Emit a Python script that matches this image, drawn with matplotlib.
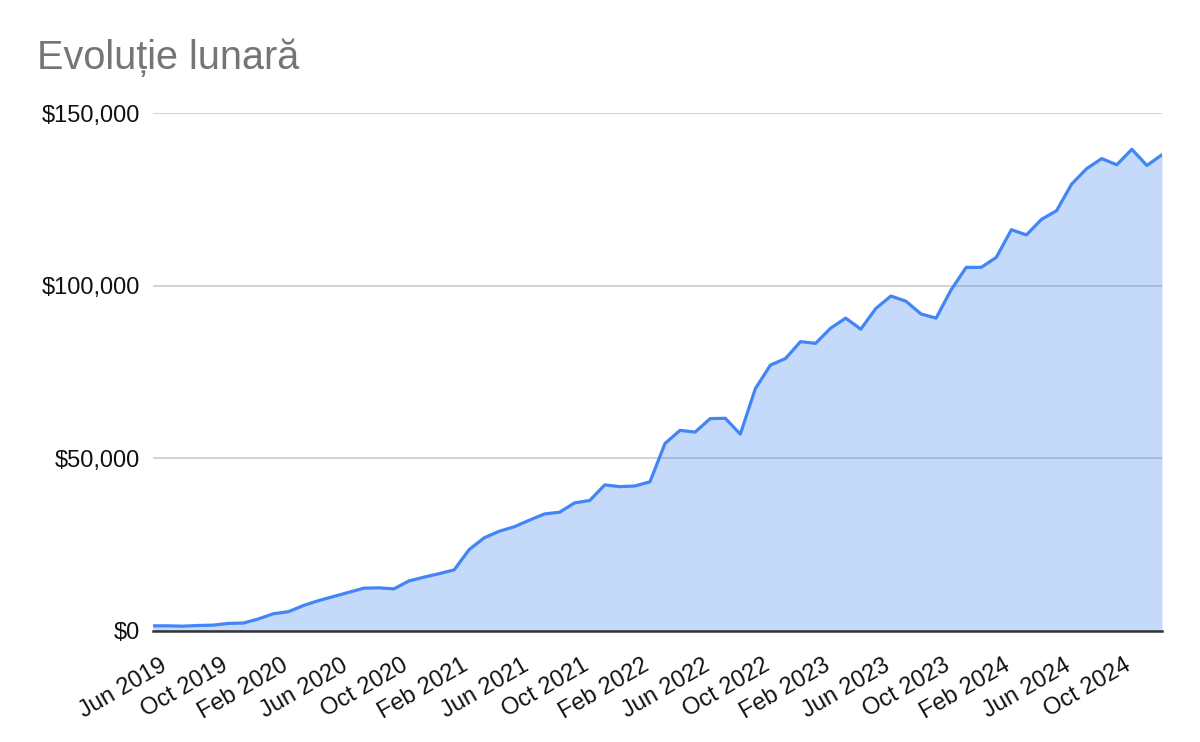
import pandas as pd
import matplotlib.pyplot as plt
import matplotlib.transforms as mtransforms
from matplotlib.ticker import FuncFormatter

# luni iun 2019 - ian 2025
luni = pd.date_range('2019-06-01', periods=68, freq='MS')
valori = [
    1500, 1500, 1400, 1600, 1700, 2200, 2300, 3500, 5000, 5600,
    7400, 8800, 10000, 11200, 12400, 12500, 12200, 14500, 15600, 16600,
    17700, 23600, 27000, 28900, 30200, 32100, 33900, 34400, 37100, 37800,
    42300, 41800, 42000, 43200, 54300, 58100, 57600, 61500, 61600, 57000,
    70200, 77000, 78900, 83800, 83300, 87700, 90600, 87400, 93400, 97000,
    95500, 91800, 90600, 98800, 105300, 105300, 108200, 116200, 114700, 119200,
    121700, 129400, 133900, 136800, 135000, 139500, 134800, 137900,
]
etichete = [d.strftime('%b %Y') for d in luni]

plt.rcParams['font.family'] = ['Liberation Sans', 'DejaVu Sans']

fig = plt.figure(figsize=(12, 7.42), dpi=100)
ax = fig.add_axes([0.1275, 0.1496, 0.8408, 0.6981])

x = list(range(len(valori)))
ax.fill_between(x, valori, 0, color='#4285F4', alpha=0.3, linewidth=0, zorder=2)
ax.plot(x, valori, color='#4285F4', linewidth=2.3, zorder=3, solid_joinstyle='round')

ax.set_xlim(0, len(valori) - 1)
ax.set_ylim(0, 150000)
ax.set_yticks([0, 50000, 100000, 150000])
ax.yaxis.set_major_formatter(FuncFormatter(lambda v, p: '${:,.0f}'.format(v)))
ax.grid(axis='y', color='#cccccc', linewidth=1.2, zorder=1)
ax.set_axisbelow(True)

ax.set_xticks(x[::4])
ax.set_xticklabels(etichete[::4], rotation=30, ha='right', rotation_mode='anchor')
ax.tick_params(axis='both', length=0, labelsize=17, colors='#111111')
ax.tick_params(axis='y', pad=9.5)
ax.tick_params(axis='x', pad=17)
deplasare = mtransforms.ScaledTranslation(7 / 100, 0, fig.dpi_scale_trans)
for lbl in ax.get_xticklabels():
    lbl.set_transform(lbl.get_transform() + deplasare)

for s in ['top', 'right', 'left']:
    ax.spines[s].set_visible(False)
ax.spines['bottom'].set_color('#333333')
ax.spines['bottom'].set_linewidth(1.8)
ax.spines['bottom'].set_zorder(4)

fig.text(0.031, 0.922, 'Evoluție lunară', fontsize=28.5, color='#757575', va='center')

fig.savefig('out.png')
